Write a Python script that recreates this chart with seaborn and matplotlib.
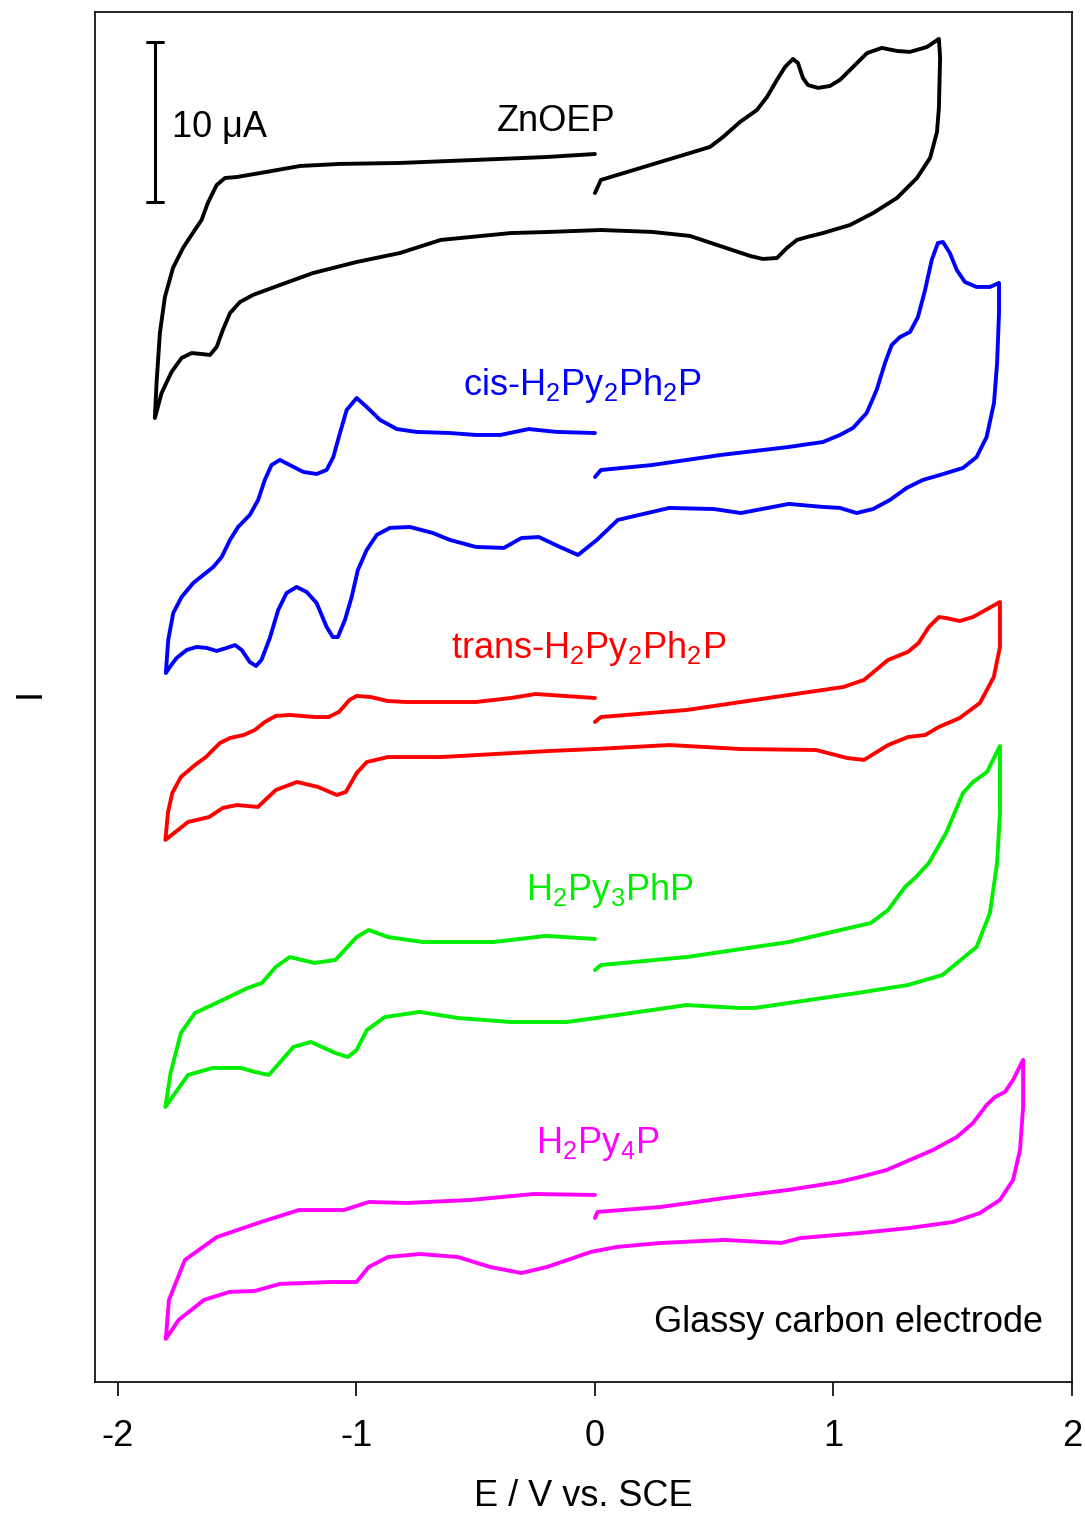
import matplotlib
matplotlib.use("Agg")
import matplotlib.pyplot as plt
import seaborn as sns
import pandas as pd

# ---------------- data (E in V vs SCE, I in uA, curves stacked with offsets) -------------
zn_E = [0.00, 0.025, 0.398, 0.482, 0.537, 0.608, 0.679, 0.721, 0.763, 0.797, 0.830, 0.851,
        0.872, 0.893, 0.935, 0.985, 1.027, 1.082, 1.141, 1.203, 1.266, 1.321, 1.392, 1.442,
        1.447, 1.442, 1.434, 1.405, 1.350, 1.266, 1.166, 1.069, 0.956, 0.889, 0.847, 0.805,
        0.763, 0.704, 0.650, 0.537, 0.398, 0.239, 0.025, -0.189, -0.352, -0.646, -0.818,
        -0.999, -1.182, -1.321, -1.434, -1.488, -1.530, -1.560, -1.586, -1.614, -1.649,
        -1.691, -1.733, -1.775, -1.817, -1.845,
        -1.838, -1.824, -1.803, -1.769, -1.727, -1.686, -1.649, -1.623, -1.586, -1.551,
        -1.502, -1.377, -1.237, -1.069, -0.818, -0.499, -0.205, 0.000]
zn_I = [74.31, 75.13, 76.81, 77.19, 77.81, 78.75, 79.50, 80.31, 81.38, 82.19, 82.69, 82.44,
        81.50, 81.06, 80.88, 81.00, 81.38, 82.19, 83.06, 83.38, 83.19, 83.13, 83.44, 83.94,
        82.75, 79.63, 78.13, 76.50, 75.25, 74.00, 73.06, 72.31, 71.81, 71.56, 71.38, 70.88,
        70.25, 70.19, 70.38, 70.94, 71.63, 71.88, 72.00, 71.88, 71.81, 71.38, 70.56,
        70.00, 69.31, 68.56, 67.94, 67.50, 66.81, 65.75, 64.69, 64.19, 64.25,
        64.31, 64.00, 63.13, 61.81, 60.25,
        62.44, 65.56, 67.81, 69.63, 70.88, 71.81, 72.63, 73.69, 74.81, 75.25,
        75.31, 75.63, 76.00, 76.13, 76.19, 76.38, 76.56, 76.75]

cis_E = [0.00, 0.025, 0.239, 0.528, 0.813, 0.956, 1.027, 1.082, 1.139, 1.181, 1.216, 1.244,
         1.279, 1.321, 1.354, 1.384, 1.412, 1.438, 1.459, 1.488, 1.517, 1.551, 1.600, 1.656,
         1.694,
         1.694, 1.686, 1.673, 1.642, 1.600, 1.543, 1.447, 1.375, 1.307, 1.237, 1.166, 1.097,
         1.027, 0.956, 0.813, 0.612, 0.499, 0.312, 0.096, 0.008, -0.071, -0.147, -0.235,
         -0.308, -0.382, -0.499,
         -0.608, -0.679, -0.776, -0.860, -0.915, -0.957, -0.994, -1.020, -1.048, -1.078,
         -1.099, -1.125, -1.167, -1.209, -1.251, -1.293, -1.328, -1.363, -1.398, -1.421,
         -1.447, -1.481, -1.509, -1.544, -1.586, -1.628, -1.670, -1.712, -1.754, -1.782,
         -1.799,
         -1.789, -1.768, -1.733, -1.684, -1.600, -1.565, -1.530, -1.496, -1.447, -1.412,
         -1.384, -1.356, -1.321, -1.279, -1.223, -1.167, -1.125, -1.097, -1.069, -1.041,
         -0.999, -0.957, -0.901, -0.831, -0.748, -0.608, -0.499, -0.396, -0.278, -0.161,
         0.000]
cis_I = [56.56, 57.00, 57.31, 57.94, 58.44, 58.75, 59.19, 59.63, 60.56, 62.00, 63.69, 64.81,
         65.31, 65.63, 66.56, 68.25, 70.13, 71.19, 71.25, 70.56, 69.50, 68.75, 68.44, 68.44,
         68.69,
         66.81, 63.69, 61.19, 59.06, 57.81, 57.13, 56.69, 56.38, 55.88, 55.13, 54.56, 54.31,
         54.63, 54.69, 54.88, 54.31, 54.56, 54.63, 53.88, 52.63, 51.69, 52.19, 52.81,
         52.75, 52.13, 52.19,
         52.63, 53.06, 53.44, 53.38, 52.94, 52.00, 50.75, 49.06, 47.63, 46.56,
         46.56, 47.19, 48.69, 49.38, 49.69, 49.31, 48.25, 46.50, 45.13, 44.75,
         45.00, 45.75, 46.06, 45.88, 45.69, 45.88, 45.94, 45.75, 45.25, 44.69,
         44.31,
         46.38, 48.06, 49.06, 49.94, 50.94, 51.56, 52.63, 53.44, 54.19, 55.13,
         56.38, 57.31, 57.63, 57.31, 56.88, 56.75, 57.00, 57.81, 59.31, 60.75,
         61.50, 60.94, 60.13, 59.56, 59.38, 59.31, 59.19, 59.19, 59.56, 59.38,
         59.31]

trans_E = [0.00, 0.025, 0.384, 0.671, 1.042, 1.128, 1.229, 1.312, 1.357, 1.400, 1.442, 1.472,
           1.529, 1.585, 1.698,
           1.698, 1.672, 1.614, 1.529, 1.442, 1.385, 1.312, 1.229, 1.128, 1.057, 0.927, 0.612,
           0.312, 0.000, -0.189, -0.646, -0.868, -0.956, -0.999, -1.044, -1.082, -1.161,
           -1.249, -1.338, -1.413, -1.501, -1.560, -1.618, -1.706, -1.801,
           -1.790, -1.772, -1.736, -1.677, -1.631, -1.572, -1.530, -1.472, -1.426, -1.384,
           -1.338, -1.279, -1.176, -1.117, -1.073, -1.029, -0.999, -0.940, -0.868, -0.792,
           -0.499, -0.352, -0.249, -0.131, 0.000]
trans_I = [41.25, 41.56, 42.00, 42.63, 43.44, 43.88, 45.13, 45.63, 46.19, 47.19, 47.81, 47.75,
           47.56, 47.81, 48.75,
           45.94, 44.06, 42.44, 41.50, 40.94, 40.44, 40.31, 39.81, 38.88, 39.00, 39.50, 39.56,
           39.81, 39.56, 39.44, 39.06, 39.06, 38.75, 38.06, 36.88, 36.69, 37.19,
           37.50, 37.00, 35.94, 36.06, 35.88, 35.31, 35.00, 33.88,
           35.60, 36.81, 37.81, 38.56, 39.06, 39.94, 40.25, 40.44, 40.75, 41.25,
           41.63, 41.69, 41.56, 41.56, 41.88, 42.63, 42.88, 42.81, 42.56, 42.50,
           42.50, 42.75, 43.00, 42.88, 42.75]

py3_E = [0.00, 0.025, 0.384, 0.813, 1.157, 1.229, 1.300, 1.342, 1.400, 1.472, 1.543, 1.585,
         1.644, 1.698,
         1.698, 1.686, 1.656, 1.600, 1.457, 1.312, 1.099, 0.956, 0.671, 0.598, 0.384, 0.096,
         -0.117, -0.352, -0.574, -0.734, -0.881, -0.956, -0.999, -1.036, -1.088, -1.191,
         -1.264, -1.323, -1.367, -1.426, -1.484, -1.602, -1.706, -1.801,
         -1.779, -1.736, -1.677, -1.560, -1.455, -1.396, -1.338, -1.279, -1.176, -1.088,
         -0.999, -0.948, -0.868, -0.721, -0.426, -0.205, 0.000]
py3_I = [25.75, 26.06, 26.56, 27.50, 28.69, 29.50, 30.94, 31.50, 32.44, 34.31, 36.81, 37.50,
         38.13, 39.75,
         35.56, 32.44, 29.31, 27.19, 25.44, 24.81, 24.31, 24.00, 23.38, 23.38, 23.56, 22.94,
         22.50, 22.50, 22.75, 23.13, 22.81, 22.00, 20.75, 20.31, 20.56, 21.25,
         20.94, 19.94, 19.19, 19.38, 19.63, 19.63, 19.19, 17.19,
         19.31, 21.81, 23.06, 23.88, 24.63, 24.94, 25.94, 26.56, 26.19, 26.38,
         27.81, 28.25, 27.81, 27.50, 27.50, 27.88, 27.69]

py4_E = [0.00, 0.011, 0.277, 0.543, 0.809, 1.022, 1.111, 1.223, 1.321, 1.417, 1.517, 1.585,
         1.642, 1.677, 1.719, 1.753, 1.795,
         1.795, 1.782, 1.753, 1.698, 1.614, 1.501, 1.321, 1.111, 0.862, 0.782, 0.703, 0.543,
         0.277, 0.091, -0.017, -0.201, -0.308, -0.440, -0.574, -0.734, -0.868, -0.948, -1.000,
         -1.107, -1.321, -1.426, -1.532, -1.639, -1.745, -1.799,
         -1.786, -1.719, -1.585, -1.400, -1.241, -1.052, -0.948, -0.788, -0.520, -0.256, 0.000]
py4_I = [10.25, 10.63, 10.94, 11.50, 12.00, 12.50, 12.81, 13.25, 13.88, 14.50, 15.31, 16.19,
         17.31, 17.81, 18.13, 18.88, 20.13,
         17.19, 14.50, 12.63, 11.38, 10.56, 10.00, 9.63, 9.31, 9.00, 8.69, 8.75, 8.88,
         8.69, 8.44, 8.13, 7.19, 6.81, 7.19, 7.81, 8.00, 7.81, 7.19, 6.25,
         6.25, 6.13, 5.69, 5.63, 5.13, 3.88, 2.69,
         5.13, 7.63, 9.06, 10.00, 10.75, 10.75, 11.25, 11.19, 11.38, 11.75, 11.69]

names = ["ZnOEP", "cis-H$_2$Py$_2$Ph$_2$P", "trans-H$_2$Py$_2$Ph$_2$P", "H$_2$Py$_3$PhP", "H$_2$Py$_4$P"]
colors = ["#000000", "#0000ff", "#ff0000", "#00ee00", "#ff00ff"]
curves = [(zn_E, zn_I), (cis_E, cis_I), (trans_E, trans_I), (py3_E, py3_I), (py4_E, py4_I)]
label_E = [-0.164, -0.050, -0.027, 0.063, 0.010]
label_I = [78.2, 61.7, 45.25, 30.13, 14.31]
xticks = [-2, -1, 0, 1, 2]

# ---------------- plot -------------
sns.set_style("white")
plt.rcParams["font.family"] = ["Liberation Sans", "DejaVu Sans"]
plt.rcParams["mathtext.fontset"] = "custom"
plt.rcParams["mathtext.rm"] = "Liberation Sans"
plt.rcParams["mathtext.default"] = "regular"
plt.rcParams["text.color"] = "black"
plt.rcParams["axes.labelcolor"] = "black"
plt.rcParams["xtick.color"] = "black"

fig = plt.figure(figsize=(10.85, 15.17), dpi=100)
ax = fig.add_axes([95 / 1085, 1 - 1382 / 1517, 977 / 1085, 1370 / 1517])

for (E, I), c in zip(curves, colors):
    df = pd.DataFrame({"E": E, "I": I})
    sns.lineplot(data=df, x="E", y="I", sort=False, estimator=None, color=c,
                 linewidth=2.8, solid_joinstyle="round", solid_capstyle="round", ax=ax)

for n, c, xe, yi in zip(names, colors, label_E, label_I):
    ax.text(xe, yi, n, color=c, fontsize=26, ha="center", va="baseline")

ax.text(1.878, 3.13, "Glassy carbon electrode", color="black", fontsize=26,
        ha="right", va="baseline")

# scale bar 10 uA
sb_E, sb_lo, sb_hi = -1.845, 73.75, 83.75
ax.plot([sb_E, sb_E], [sb_lo, sb_hi], color="black", lw=2.2)
ax.plot([sb_E - 0.035, sb_E + 0.035], [sb_lo, sb_lo], color="black", lw=2.2)
ax.plot([sb_E - 0.035, sb_E + 0.035], [sb_hi, sb_hi], color="black", lw=2.2)
ax.text(-1.774, 77.81, "10 μA", fontsize=26, ha="left", va="baseline")

ax.set_xlim(-2.096, 2.0)
ax.set_ylim(0, 85.625)
ax.set_xticks(xticks)
ax.set_xticklabels([str(t) for t in xticks])
ax.set_yticks([])
ax.tick_params(axis="x", direction="out", length=10, width=1.2, pad=17,
               labelsize=26, bottom=True, colors="black")
for s in ax.spines.values():
    s.set_linewidth(1.2)
    s.set_color("black")

ax.set_xlabel("E / V vs. SCE", fontsize=26, va="center")
ax.xaxis.set_label_coords(0.5, -(1497 - 1382) / 1370)
ax.set_ylabel("I", fontsize=26, rotation=90, va="center")
ax.yaxis.set_label_coords(-65 / 977, 0.503)

fig.savefig("out.png", dpi=100)
